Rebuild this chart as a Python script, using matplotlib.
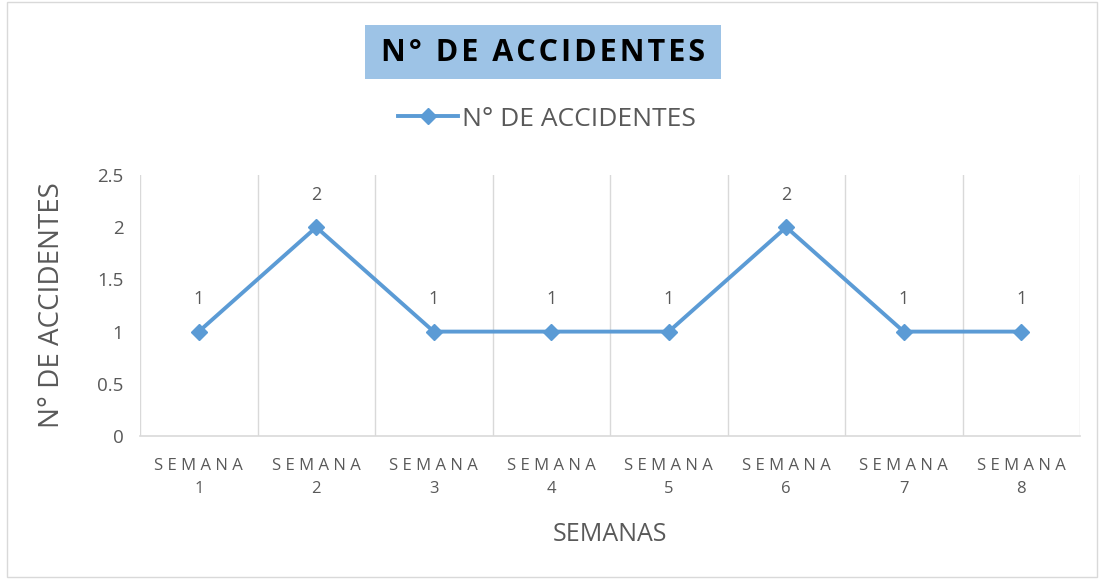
import matplotlib
matplotlib.use("Agg")
import matplotlib.pyplot as plt
from matplotlib.patches import Rectangle

categories = ["SEMANA 1", "SEMANA 2", "SEMANA 3", "SEMANA 4",
              "SEMANA 5", "SEMANA 6", "SEMANA 7", "SEMANA 8"]
accidentes = [1, 2, 1, 1, 1, 2, 1, 1]
yticks = [0, 0.5, 1, 1.5, 2, 2.5]
ytick_labels = ["0", "0.5", "1", "1.5", "2", "2.5"]

plt.rcParams['font.family'] = ['Open Sans', 'DejaVu Sans']
gray = '#595959'
blue = '#5B9BD5'

fig = plt.figure(figsize=(11.02, 5.79), dpi=100)
ax = fig.add_axes([140/1102, 1-436/579, 940/1102, 261/579])

x = list(range(len(categories)))
ax.plot(x, accidentes, color=blue, lw=2.8, marker='D', ms=8, label='N° DE ACCIDENTES', zorder=3)
for xi, v in zip(x, accidentes):
    ax.annotate(f"{v}", (xi, v), xytext=(0, 17), textcoords='offset points',
                ha='center', va='bottom', color=gray, fontsize=13)

ax.set_xlim(-0.5, len(categories) - 0.5)
ax.set_ylim(0, 2.5)
ax.set_yticks(yticks)
ax.set_yticklabels(ytick_labels, fontsize=13.5, color=gray)
ax.set_xticks(x)
def spaced(c):
    w, n = c.split()
    return " ".join(w) + "\n" + n
ax.set_xticklabels([spaced(c) for c in categories], fontsize=12, color=gray, linespacing=1.6)
ax.tick_params(axis='y', length=0, pad=12)
ax.tick_params(axis='x', length=0, pad=16)

for b in [i - 0.5 for i in range(len(categories) + 1)]:
    ax.axvline(b, color='#D9D9D9', lw=1, zorder=1)
for s in ['top', 'right', 'left']:
    ax.spines[s].set_visible(False)
ax.spines['bottom'].set_color('#D9D9D9')
ax.spines['bottom'].set_linewidth(1.2)

ax.set_ylabel("N° DE ACCIDENTES", fontsize=20, color=gray, labelpad=22)
ax.set_xlabel("SEMANAS", fontsize=18, color=gray, labelpad=18)

# title with box
fig.patches.append(Rectangle((365/1102, 1-79/579), 356/1102, 54/579,
                             transform=fig.transFigure, facecolor='#9DC3E6',
                             edgecolor='none', zorder=0))
fig.text(543/1102, 1-53/579, "\u200a".join("N° DE ACCIDENTES"),
         ha='center', va='center', fontsize=22, fontweight='bold', color='black')

leg = fig.legend(loc='center', bbox_to_anchor=(547/1102, 1-119/579), frameon=False,
                 fontsize=19, handlelength=2.3, handletextpad=0.15)
for t in leg.get_texts():
    t.set_color(gray)

# figure border
fig.patches.append(Rectangle((7/1102, 2/579), 1090/1102, 575/579, transform=fig.transFigure,
                             facecolor='none', edgecolor='#D9D9D9', lw=1))

fig.savefig("out.png", dpi=100)
